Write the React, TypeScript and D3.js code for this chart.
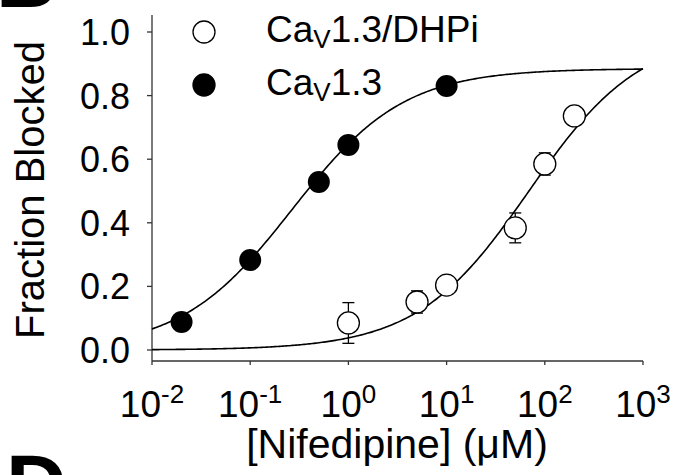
import React, { useRef, useEffect } from 'react';
import * as d3 from 'd3';

// Nifedipine concentration (uM) and fraction blocked
const wtConc = [0.02, 0.1, 0.5, 1, 10];
const wtBlock = [0.088, 0.283, 0.528, 0.645, 0.83];

const dhpConc = [1, 5, 10, 50, 100, 200];
const dhpBlock = [0.085, 0.151, 0.204, 0.384, 0.585, 0.736];
const dhpErr = [0.064, 0.035, 0.008, 0.047, 0.035, 0.008];

// Hill fit parameters: [max, IC50 (uM), slope]
const wtFit = [0.885, 0.268, 0.765];
const dhpFit = [1.0, 69, 0.763];

const xTickExps = [-2, -1, 0, 1, 2, 3];
const yTicks = [0, 0.2, 0.4, 0.6, 0.8, 1.0];

const W = 674;
const H = 475;

const hill = (p: number[], c: number) => p[0] / (1 + Math.pow(p[1] / c, p[2]));

const App: React.FC = () => {
  const svgRef = useRef<SVGSVGElement>(null);

  useEffect(() => {
    if (!svgRef.current) return;
    const svg = d3.select(svgRef.current);
    svg.selectAll('*').remove();

    const font = 'Liberation Sans, Arial, sans-serif';
    const axisColor = '#333';

    const x = d3.scaleLog().domain([0.01, 1000]).range([152, 643]);
    const y = d3.scaleLinear().domain([0, 1]).range([350, 32]);
    const xAxisY = 361;

    // panel letters cut by the frame
    svg.append('text')
      .attr('x', -4).attr('y', 7)
      .attr('font-family', font).attr('font-weight', 'bold').attr('font-size', 84)
      .text('B');
    svg.append('text')
      .attr('x', 6).attr('y', 513)
      .attr('font-family', font).attr('font-weight', 'bold').attr('font-size', 84)
      .text('D');

    // y axis
    svg.append('line')
      .attr('x1', 152).attr('x2', 152).attr('y1', 15).attr('y2', xAxisY)
      .attr('stroke', axisColor).attr('stroke-width', 1.3);
    yTicks.forEach(t => {
      svg.append('line')
        .attr('x1', 147).attr('x2', 152).attr('y1', y(t)).attr('y2', y(t))
        .attr('stroke', axisColor).attr('stroke-width', 1.3);
      svg.append('text')
        .attr('x', 130).attr('y', y(t) + 13)
        .attr('text-anchor', 'end')
        .attr('font-family', font).attr('font-size', 36)
        .text(d3.format('.1f')(t));
    });

    // x axis
    svg.append('line')
      .attr('x1', 152).attr('x2', 643).attr('y1', xAxisY).attr('y2', xAxisY)
      .attr('stroke', axisColor).attr('stroke-width', 1.3);
    xTickExps.forEach(e => {
      const xv = x(Math.pow(10, e));
      svg.append('line')
        .attr('x1', xv).attr('x2', xv).attr('y1', xAxisY).attr('y2', xAxisY + 4)
        .attr('stroke', axisColor).attr('stroke-width', 1.3);
      const t = svg.append('text')
        .attr('x', xv).attr('y', 417)
        .attr('text-anchor', 'middle')
        .attr('font-family', font).attr('font-size', 37);
      t.append('tspan').text('10');
      t.append('tspan').attr('dy', -14).attr('font-size', 26).text(String(e));
    });

    // axis titles
    svg.append('text')
      .attr('x', 397).attr('y', 458)
      .attr('text-anchor', 'middle')
      .attr('font-family', font).attr('font-size', 41)
      .text('[Nifedipine] (\u03BCM)');
    svg.append('text')
      .attr('transform', 'translate(44,190) rotate(-90)')
      .attr('text-anchor', 'middle')
      .attr('font-family', font).attr('font-size', 40)
      .text('Fraction Blocked');

    // fit curves
    const samples = d3.range(0, 301).map(i => Math.pow(10, -2 + (5 * i) / 300));
    const line = d3.line<number>().x(c => x(c));
    [wtFit, dhpFit].forEach(p => {
      svg.append('path')
        .attr('d', line.y(c => y(hill(p, c)))(samples))
        .attr('fill', 'none')
        .attr('stroke', '#000')
        .attr('stroke-width', 1.6);
    });

    // error bars
    dhpConc.forEach((c, i) => {
      const xv = x(c);
      const y1 = y(dhpBlock[i] + dhpErr[i]);
      const y2 = y(dhpBlock[i] - dhpErr[i]);
      const g = svg.append('g').attr('stroke', '#000').attr('stroke-width', 1.3);
      g.append('line').attr('x1', xv).attr('x2', xv).attr('y1', y1).attr('y2', y2);
      g.append('line').attr('x1', xv - 6).attr('x2', xv + 6).attr('y1', y1).attr('y2', y1);
      g.append('line').attr('x1', xv - 6).attr('x2', xv + 6).attr('y1', y2).attr('y2', y2);
    });

    // points
    svg.selectAll('.dhp')
      .data(dhpConc)
      .enter()
      .append('circle')
      .attr('cx', c => x(c))
      .attr('cy', (c, i) => y(dhpBlock[i]))
      .attr('r', 11)
      .attr('fill', '#fff')
      .attr('stroke', '#000')
      .attr('stroke-width', 1.3);
    svg.selectAll('.wt')
      .data(wtConc)
      .enter()
      .append('circle')
      .attr('cx', c => x(c))
      .attr('cy', (c, i) => y(wtBlock[i]))
      .attr('r', 11)
      .attr('fill', '#000');

    // legend
    const legend = [
      { label: '1.3/DHPi', filled: false, cy: 32 },
      { label: '1.3', filled: true, cy: 85 },
    ];
    legend.forEach(l => {
      svg.append('circle')
        .attr('cx', 204).attr('cy', l.cy).attr('r', 11)
        .attr('fill', l.filled ? '#000' : '#fff')
        .attr('stroke', '#000').attr('stroke-width', 1.3);
      const t = svg.append('text')
        .attr('x', 266).attr('y', l.cy + 10)
        .attr('font-family', font).attr('font-size', 37);
      t.append('tspan').text('Ca');
      t.append('tspan').attr('dy', 6).attr('font-size', 26).text('V');
      t.append('tspan').attr('dy', -6).text(l.label);
    });
  }, []);

  return (
    <svg
      ref={svgRef}
      width={W}
      height={H}
      style={{ position: 'absolute', left: 0, top: 0, background: '#fff' }}
    />
  );
};

export default App;
